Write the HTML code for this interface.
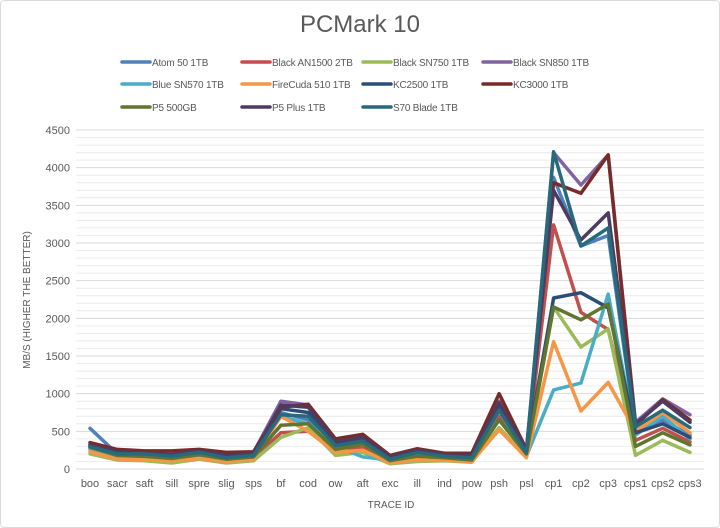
<!DOCTYPE html>
<html><head><style>
body{margin:0;background:#fff}
svg{display:block;font-family:"Liberation Sans",sans-serif}
</style></head><body>
<svg id="s" width="720" height="528" xmlns="http://www.w3.org/2000/svg">
<rect x="0.5" y="0.5" width="719" height="527" rx="4" fill="#fff" stroke="#d9d9d9"/>
<text x="360" y="32" text-anchor="middle" font-size="24" fill="#595959">PCMark 10</text>
<g id="grid"></g>
<g id="ylab" font-size="11" fill="#595959" text-anchor="end"></g>
<g id="xlab" font-size="11" fill="#595959" text-anchor="middle"></g>
<g id="lines" fill="none" stroke-width="3.5" stroke-linejoin="round" stroke-linecap="round"></g>
<g id="leg" font-size="10" fill="#595959" letter-spacing="-0.2"></g>
<text x="391" y="508" text-anchor="middle" font-size="10" fill="#595959">TRACE ID</text>
<text transform="translate(30,300) rotate(-90)" text-anchor="middle" font-size="10" fill="#595959">MB/S (HIGHER THE BETTER)</text>
</svg>
<script>
var NS="http://www.w3.org/2000/svg";
function el(t,a,p,txt){var e=document.createElementNS(NS,t);for(var k in a)e.setAttribute(k,a[k]);if(txt)e.textContent=txt;document.getElementById(p).appendChild(e);}
var y0=469,pp=339/4500,x0=90,dx=600/22,L=76,R=704;
function Y(v){return y0-v*pp}
for(var v=0;v<=4500;v+=100){var major=v%500==0;el('line',{x1:L,x2:R,y1:Y(v),y2:Y(v),stroke:major?'#d9d9d9':'#ececec','stroke-width':1},'grid');if(major)el('text',{x:70,y:Y(v)+4},'ylab',String(v));}
var cats="boo sacr saft sill spre slig sps bf cod ow aft exc ill ind pow psh psl cp1 cp2 cp3 cps1 cps2 cps3".split(" ");
cats.forEach(function(c,i){el('text',{x:x0+i*dx,y:487},'xlab',c)});
var S=[
["Atom 50 1TB","#4F81BD",[540,200,190,160,210,150,170,750,650,300,330,130,200,160,140,820,200,3870,2960,3100,520,650,450]],
["Black AN1500 2TB","#C0504D",[280,150,150,130,180,130,150,480,500,250,280,110,170,140,120,700,190,3240,2080,1850,380,540,360]],
["Black SN750 1TB","#9BBB59",[200,120,110,80,130,80,110,420,550,180,220,70,100,110,90,550,160,2150,1620,1860,180,380,220]],
["Black SN850 1TB","#8064A2",[330,250,230,230,250,210,220,900,850,380,450,170,250,200,200,900,240,4200,3770,4170,620,930,720]],
["Blue SN570 1TB","#4BACC6",[260,170,160,130,180,120,150,700,600,300,160,120,180,140,120,780,170,1050,1140,2320,450,700,400]],
["FireCuda 510 1TB","#F79646",[230,130,120,110,140,100,130,700,500,220,250,80,130,120,100,520,150,1690,770,1150,500,750,480]],
["KC2500 1TB","#2C4D75",[320,200,190,170,220,160,180,800,750,320,380,140,230,180,170,850,220,2270,2340,2140,480,600,420]],
["KC3000 1TB","#772C2A",[350,260,240,240,260,220,230,820,860,400,460,180,270,210,210,1000,260,3800,3660,4170,580,920,650]],
["P5 500GB","#5F7530",[290,180,170,140,190,130,160,580,600,260,330,110,170,150,120,650,200,2150,1980,2190,300,480,320]],
["P5 Plus 1TB","#4D3B62",[310,230,210,190,240,180,200,850,820,360,420,160,250,190,180,880,240,3700,3040,3400,600,900,620]],
["S70 Blade 1TB","#276A7C",[300,200,200,170,220,150,180,720,700,310,370,130,220,170,150,780,210,4210,2960,3200,560,780,550]]];
var lx=[122,242,363,483],ly=[62,84,107];
S.forEach(function(s,k){
 var d=s[2].map(function(v,i){return (i?'L':'M')+(x0+i*dx).toFixed(1)+','+Y(v).toFixed(1)}).join('');
 el('path',{d:d,stroke:s[1]},'lines');
 var x=lx[k%4],y=ly[Math.floor(k/4)];
 el('line',{x1:x,x2:x+28,y1:y,y2:y,stroke:s[1],'stroke-width':3.5,'stroke-linecap':'round'},'leg');
 el('text',{x:x+30,y:y+4},'leg',s[0]);
});
</script>
</body></html>
